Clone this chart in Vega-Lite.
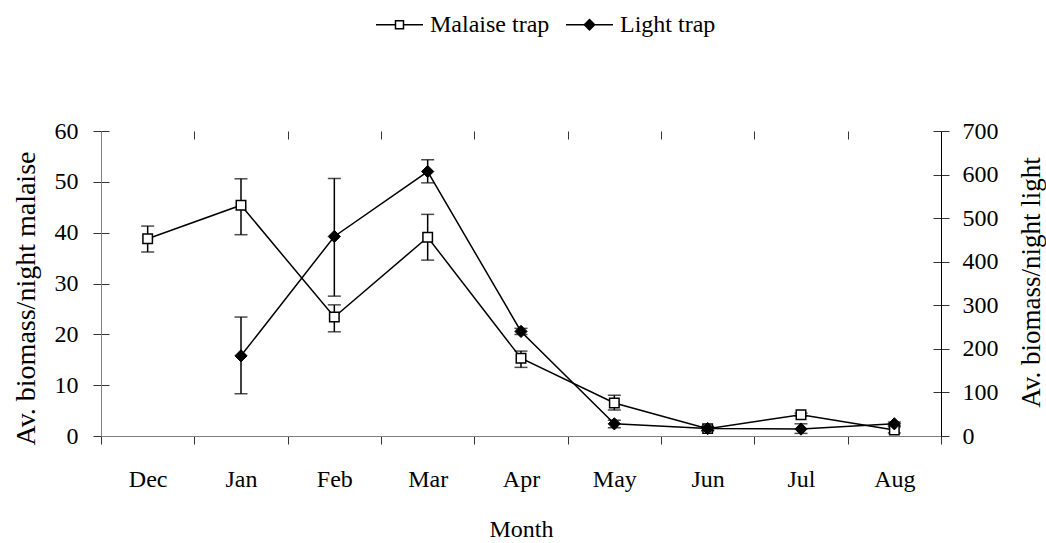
{
  "$schema": "https://vega.github.io/schema/vega-lite/v6.json",
  "width": 840,
  "height": 305,
  "autosize": {"type": "none"},
  "padding": {"left": 101, "top": 131, "right": 105, "bottom": 107},
  "background": "white",
  "config": {
    "view": {"stroke": null},
    "font": "Liberation Serif",
    "axis": {
      "labelFont": "Liberation Serif",
      "titleFont": "Liberation Serif",
      "labelFontSize": 24,
      "titleFontSize": 24,
      "titleFontWeight": "normal",
      "labelColor": "black",
      "titleColor": "black",
      "tickColor": "#333333",
      "tickWidth": 1,
      "domainWidth": 1,
      "gridColor": "#333333",
      "gridOpacity": 1,
      "gridWidth": 1,
      "gridDash": [8, 2000]
    },
    "legend": {
      "labelFont": "Liberation Serif",
      "labelFontSize": 24,
      "labelColor": "black"
    },
    "tick": {"size": 13, "thickness": 1.5}
  },
  "datasets": {
    "rows": [
      {"month": "Dec", "series": "Malaise trap", "value": 38.8, "lo": 36.2, "hi": 41.3},
      {"month": "Jan", "series": "Malaise trap", "value": 45.4, "lo": 39.6, "hi": 50.6},
      {"month": "Feb", "series": "Malaise trap", "value": 23.4, "lo": 20.5, "hi": 25.8},
      {"month": "Mar", "series": "Malaise trap", "value": 39.1, "lo": 34.6, "hi": 43.6},
      {"month": "Apr", "series": "Malaise trap", "value": 15.3, "lo": 13.5, "hi": 16.7},
      {"month": "May", "series": "Malaise trap", "value": 6.5, "lo": 5.1, "hi": 8.0},
      {"month": "Jun", "series": "Malaise trap", "value": 1.45, "lo": 1.1, "hi": 1.8},
      {"month": "Jul", "series": "Malaise trap", "value": 4.2, "lo": 3.9, "hi": 4.5},
      {"month": "Aug", "series": "Malaise trap", "value": 1.2, "lo": 0.6, "hi": 1.8},
      {"month": "Jan", "series": "Light trap", "value": 184, "lo": 97, "hi": 273},
      {"month": "Feb", "series": "Light trap", "value": 458, "lo": 321, "hi": 591},
      {"month": "Mar", "series": "Light trap", "value": 607, "lo": 581, "hi": 634},
      {"month": "Apr", "series": "Light trap", "value": 240, "lo": 233, "hi": 247},
      {"month": "May", "series": "Light trap", "value": 28, "lo": 19, "hi": 36},
      {"month": "Jun", "series": "Light trap", "value": 17, "lo": 12, "hi": 22},
      {"month": "Jul", "series": "Light trap", "value": 16, "lo": 6, "hi": 28},
      {"month": "Aug", "series": "Light trap", "value": 28, "lo": 24, "hi": 32}
    ]
  },
  "data": {"name": "rows"},
  "encoding": {
    "x": {
      "field": "month",
      "type": "nominal",
      "scale": {"domain": ["Dec", "Jan", "Feb", "Mar", "Apr", "May", "Jun", "Jul", "Aug"], "paddingInner": 0, "paddingOuter": 0},
      "axis": {
        "title": "Month",
        "labelAngle": 0,
        "tickBand": "extent",
        "tickSize": 8,
        "labelPadding": 23,
        "titlePadding": 26,
        "titleFont": "Liberation Serif",
        "domainColor": "#808080",
        "grid": true
      }
    }
  },
  "layer": [
    {
      "transform": [{"filter": "datum.series === 'Malaise trap'"}],
      "encoding": {
        "y": {
          "field": "value",
          "type": "quantitative",
          "scale": {"domain": [0, 60], "nice": false, "zero": true},
          "axis": {
            "title": "Av. biomass/night malaise",
            "values": [0, 10, 20, 30, 40, 50, 60],
            "tickSize": 8,
            "labelPadding": 15,
            "titleFont": "Liberation Serif",
            "titleFontSize": 28,
            "titleAngle": -90,
            "titleAlign": "center",
            "titleBaseline": "alphabetic",
            "titleX": -67,
            "titleY": 167,
            "domainColor": "#808080",
            "grid": true
          }
        }
      },
      "layer": [
        {"mark": {"type": "line", "color": "black", "strokeWidth": 1.5}},
        {"mark": {"type": "rule", "color": "black", "strokeWidth": 1.5}, "encoding": {"y": {"field": "lo", "type": "quantitative"}, "y2": {"field": "hi"}}},
        {"mark": {"type": "tick", "color": "black"}, "encoding": {"y": {"field": "lo", "type": "quantitative"}}},
        {"mark": {"type": "tick", "color": "black"}, "encoding": {"y": {"field": "hi", "type": "quantitative"}}},
        {"mark": {"type": "point", "shape": "square", "filled": true, "fill": "white", "stroke": "black", "strokeWidth": 1.5, "size": 90, "opacity": 1}}
      ]
    },
    {
      "transform": [{"filter": "datum.series === 'Light trap'"}],
      "encoding": {
        "y": {
          "field": "value",
          "type": "quantitative",
          "scale": {"domain": [0, 700], "nice": false, "zero": true},
          "axis": {
            "title": "Av. biomass/night light",
            "orient": "right",
            "values": [0, 100, 200, 300, 400, 500, 600, 700],
            "tickSize": 8,
            "labelPadding": 13,
            "titleFont": "Liberation Serif",
            "titleFontSize": 27,
            "titleAngle": -90,
            "titleAlign": "center",
            "titleBaseline": "alphabetic",
            "titleX": 98,
            "titleY": 151,
            "domainColor": "black",
            "grid": true
          }
        }
      },
      "layer": [
        {"mark": {"type": "line", "color": "black", "strokeWidth": 1.5}},
        {"mark": {"type": "rule", "color": "black", "strokeWidth": 1.5}, "encoding": {"y": {"field": "lo", "type": "quantitative"}, "y2": {"field": "hi"}}},
        {"mark": {"type": "tick", "color": "black"}, "encoding": {"y": {"field": "lo", "type": "quantitative"}}},
        {"mark": {"type": "tick", "color": "black"}, "encoding": {"y": {"field": "hi", "type": "quantitative"}}},
        {"mark": {"type": "point", "shape": "diamond", "filled": true, "fill": "black", "stroke": "black", "strokeWidth": 1, "size": 150, "opacity": 1}}
      ]
    },
    {
      "mark": {"type": "point", "filled": true, "stroke": "black", "strokeWidth": 1.5, "opacity": 0},
      "encoding": {
        "shape": {
          "field": "series",
          "type": "nominal",
          "scale": {
            "domain": ["Malaise trap", "Light trap"],
            "range": ["M-1,0H-0.17M0.17,0H1M-0.17,-0.17H0.17V0.17H-0.17Z", "M-1,0H1M0,-0.22L0.22,0L0,0.22L-0.22,0Z"]
          },
          "legend": {
            "title": null,
            "orient": "none",
            "direction": "horizontal",
            "legendX": 274,
            "legendY": -131,
            "symbolSize": 2209,
            "symbolStrokeColor": "black",
            "symbolStrokeWidth": 1.5,
            "labelOffset": 6,
            "columnPadding": 13,
            "encode": {
              "symbols": {
                "update": {
                  "size": {"value": 2209},
                  "opacity": {"value": 1},
                  "stroke": {"value": "black"},
                  "strokeWidth": {"value": 1.5}
                }
              }
            }
          }
        },
        "fill": {
          "field": "series",
          "type": "nominal",
          "scale": {"domain": ["Malaise trap", "Light trap"], "range": ["white", "black"]},
          "legend": {
            "title": null,
            "orient": "none",
            "direction": "horizontal",
            "legendX": 274,
            "legendY": -131,
            "symbolSize": 2209,
            "symbolStrokeColor": "black",
            "symbolStrokeWidth": 1.5,
            "labelOffset": 6,
            "columnPadding": 13,
            "encode": {
              "symbols": {
                "update": {
                  "size": {"value": 2209},
                  "opacity": {"value": 1},
                  "stroke": {"value": "black"},
                  "strokeWidth": {"value": 1.5}
                }
              }
            }
          }
        }
      }
    }
  ],
  "resolve": {"scale": {"y": "independent"}}
}
